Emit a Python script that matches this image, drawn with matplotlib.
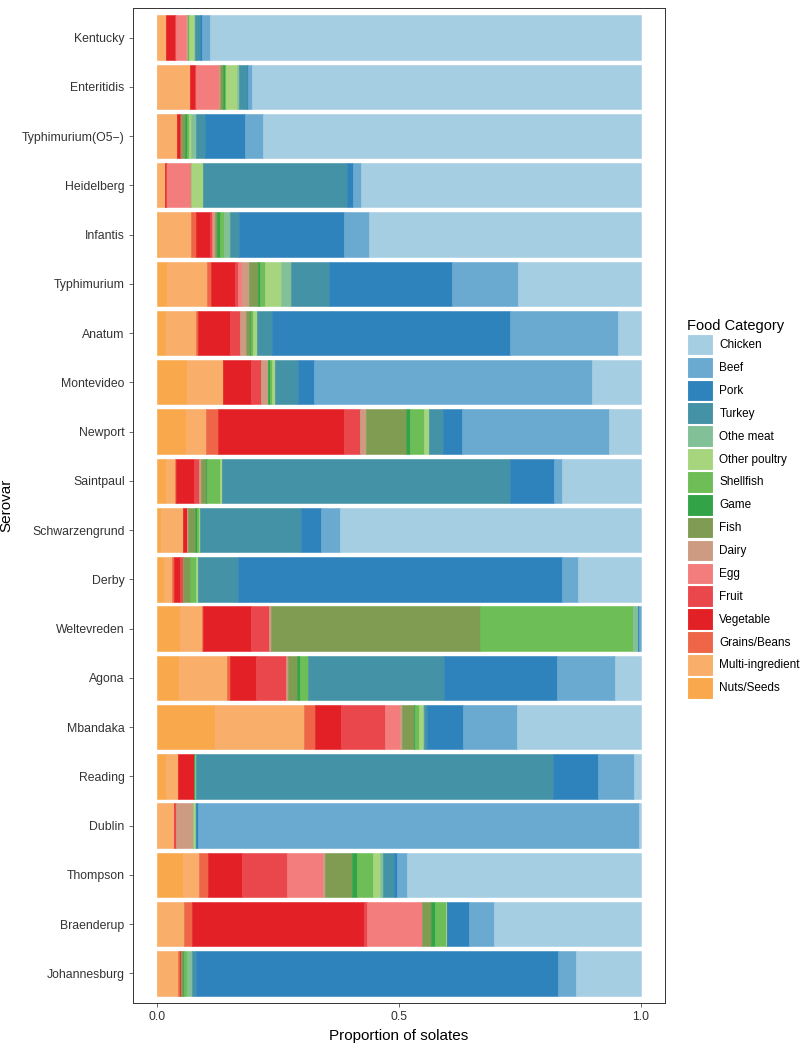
import matplotlib
matplotlib.use("Agg")
import matplotlib.pyplot as plt
from matplotlib.patches import Patch
import numpy as np

plt.rcParams['font.family'] = ['Liberation Sans', 'DejaVu Sans']

serovars = ["Kentucky", "Enteritidis", "Typhimurium(O5\u2212)", "Heidelberg", "Infantis",
            "Typhimurium", "Anatum", "Montevideo", "Newport", "Saintpaul",
            "Schwarzengrund", "Derby", "Weltevreden", "Agona", "Mbandaka",
            "Reading", "Dublin", "Thompson", "Braenderup", "Johannesburg"]

# proportions per food category, one value per serovar (top to bottom)
nuts_seeds = [0.000, 0.000, 0.000, 0.000, 0.003, 0.021, 0.019, 0.061, 0.059, 0.019,
              0.007, 0.014, 0.048, 0.046, 0.119, 0.019, 0.000, 0.053, 0.002, 0.000]
multi_ingredient = [0.019, 0.068, 0.040, 0.017, 0.067, 0.081, 0.061, 0.076, 0.041, 0.017,
                    0.046, 0.017, 0.045, 0.099, 0.185, 0.024, 0.035, 0.033, 0.053, 0.043]
grains_beans = [0.000, 0.000, 0.000, 0.000, 0.011, 0.010, 0.004, 0.000, 0.026, 0.002,
                0.000, 0.003, 0.002, 0.005, 0.022, 0.000, 0.000, 0.019, 0.017, 0.004]
vegetable = [0.017, 0.010, 0.008, 0.001, 0.028, 0.048, 0.067, 0.056, 0.260, 0.039,
             0.009, 0.014, 0.098, 0.054, 0.054, 0.033, 0.000, 0.070, 0.355, 0.003]
fruit = [0.002, 0.003, 0.002, 0.002, 0.005, 0.007, 0.021, 0.021, 0.033, 0.009,
         0.000, 0.005, 0.038, 0.062, 0.091, 0.000, 0.003, 0.093, 0.007, 0.000]
egg = [0.022, 0.046, 0.000, 0.050, 0.002, 0.008, 0.000, 0.000, 0.000, 0.000,
       0.000, 0.000, 0.000, 0.000, 0.032, 0.000, 0.000, 0.074, 0.114, 0.000]
dairy = [0.003, 0.002, 0.000, 0.000, 0.003, 0.014, 0.012, 0.015, 0.012, 0.005,
         0.002, 0.000, 0.005, 0.005, 0.003, 0.000, 0.036, 0.004, 0.000, 0.000]
fish = [0.000, 0.008, 0.007, 0.000, 0.004, 0.019, 0.008, 0.000, 0.084, 0.009,
        0.014, 0.014, 0.431, 0.019, 0.024, 0.000, 0.000, 0.057, 0.019, 0.003]
game = [0.001, 0.004, 0.005, 0.000, 0.007, 0.004, 0.002, 0.004, 0.007, 0.002,
        0.005, 0.000, 0.000, 0.005, 0.004, 0.003, 0.000, 0.010, 0.007, 0.003]
shellfish = [0.002, 0.002, 0.004, 0.000, 0.008, 0.010, 0.005, 0.005, 0.030, 0.028,
             0.003, 0.014, 0.317, 0.016, 0.008, 0.000, 0.000, 0.033, 0.023, 0.005]
other_poultry = [0.010, 0.023, 0.004, 0.025, 0.000, 0.035, 0.007, 0.005, 0.009, 0.004,
                 0.002, 0.004, 0.000, 0.000, 0.007, 0.000, 0.005, 0.015, 0.003, 0.000]
othe_meat = [0.003, 0.004, 0.010, 0.000, 0.013, 0.020, 0.000, 0.000, 0.000, 0.000,
             0.000, 0.000, 0.010, 0.000, 0.003, 0.002, 0.002, 0.006, 0.000, 0.010]
turkey = [0.010, 0.015, 0.019, 0.297, 0.018, 0.079, 0.032, 0.048, 0.031, 0.595,
          0.209, 0.083, 0.000, 0.283, 0.006, 0.737, 0.000, 0.023, 0.000, 0.010]
pork = [0.004, 0.002, 0.083, 0.013, 0.218, 0.254, 0.491, 0.034, 0.038, 0.092,
        0.041, 0.670, 0.002, 0.233, 0.074, 0.093, 0.004, 0.005, 0.045, 0.748]
beef = [0.017, 0.010, 0.037, 0.016, 0.050, 0.137, 0.223, 0.575, 0.305, 0.016,
        0.041, 0.033, 0.004, 0.120, 0.112, 0.074, 0.911, 0.022, 0.051, 0.037]
chicken = [0.890, 0.803, 0.781, 0.579, 0.563, 0.253, 0.048, 0.100, 0.065, 0.163,
           0.621, 0.129, 0.000, 0.053, 0.256, 0.015, 0.004, 0.483, 0.304, 0.134]

# legend order (top to bottom)
categories = ["Chicken", "Beef", "Pork", "Turkey", "Othe meat", "Other poultry",
              "Shellfish", "Game", "Fish", "Dairy", "Egg", "Fruit", "Vegetable",
              "Grains/Beans", "Multi-ingredient", "Nuts/Seeds"]
series = [chicken, beef, pork, turkey, othe_meat, other_poultry, shellfish, game,
          fish, dairy, egg, fruit, vegetable, grains_beans, multi_ingredient, nuts_seeds]
colors = ["#a6cee3", "#6aa9d0", "#2f83bd", "#4392a6", "#82c097", "#a6d57e",
          "#6dbe57", "#33a348", "#7f9c52", "#cd9b82", "#f27d7c", "#ea474c",
          "#e32026", "#ee6647", "#f9ae6a", "#f9a94b"]

fig = plt.figure(figsize=(8, 10.5), dpi=100)
ax = fig.add_axes([0.16625, 0.0448, 0.665, 0.9476])

y = np.arange(len(serovars))
left = np.zeros(len(serovars))
# stack from Nuts/Seeds (left) to Chicken (right)
for name, vals, col in zip(categories[::-1], series[::-1], colors[::-1]):
    vals = np.array(vals)
    ax.barh(y, vals, left=left, height=0.9, color=col, edgecolor=col,
            linewidth=0.4, label=name)
    left = left + vals

ax.set_ylim(len(serovars) - 0.4, -0.6)
ax.set_xlim(-0.05, 1.05)
ax.set_yticks(y)
ax.set_yticklabels(serovars, fontsize=8.8, color="#333333")
ax.set_xticks([0.0, 0.5, 1.0])
ax.set_xticklabels(["0.0", "0.5", "1.0"], fontsize=8.8, color="#333333")
ax.tick_params(axis="both", length=3, width=0.6, color="#555555", pad=3)
for s in ax.spines.values():
    s.set_linewidth(0.7)
    s.set_color("#333333")
ax.set_xlabel("Proportion of solates", fontsize=11, labelpad=4)
ax.set_ylabel("Serovar", fontsize=11, labelpad=6)

handles = [Patch(facecolor=c, edgecolor="white", linewidth=0.8) for c in colors]
leg = fig.legend(handles, categories, loc="upper left", bbox_to_anchor=(0.846, 0.7067),
                 frameon=False, title="Food Category", title_fontsize=10.5, fontsize=8.5,
                 handlelength=2.2, handleheight=2.45, labelspacing=0.1,
                 handletextpad=0.5, alignment="left")

fig.savefig("out.png", dpi=100)
